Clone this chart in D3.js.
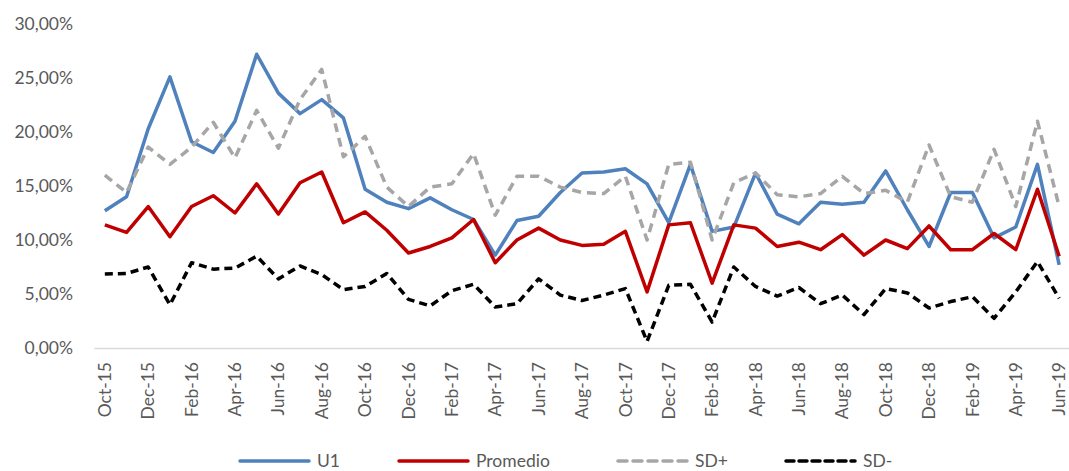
<!DOCTYPE html>
<html>
<head>
<meta charset="utf-8">
<script src="https://cdn.jsdelivr.net/npm/d3@7"></script>
<style>
  body { margin: 0; background: #fff; }
  svg { font-family: Lato, "Open Sans", sans-serif; }
</style>
</head>
<body>
<div id="chart"></div>
<script>
// Monthly values, Oct-15 .. Jun-19 (percent)
const months = ['Oct-15','Nov-15','Dec-15','Jan-16','Feb-16','Mar-16','Apr-16','May-16','Jun-16','Jul-16','Aug-16','Sep-16',
  'Oct-16','Nov-16','Dec-16','Jan-17','Feb-17','Mar-17','Apr-17','May-17','Jun-17','Jul-17','Aug-17','Sep-17',
  'Oct-17','Nov-17','Dec-17','Jan-18','Feb-18','Mar-18','Apr-18','May-18','Jun-18','Jul-18','Aug-18','Sep-18',
  'Oct-18','Nov-18','Dec-18','Jan-19','Feb-19','Mar-19','Apr-19','May-19','Jun-19'];

const u1 = [12.7, 14.0, 20.3, 25.1, 19.1, 18.1, 21.0, 27.2, 23.6, 21.7, 23.0, 21.3,
  14.7, 13.5, 12.9, 13.9, 12.8, 11.9, 8.6, 11.8, 12.2, 14.4, 16.2, 16.3,
  16.6, 15.2, 11.6, 17.0, 10.8, 11.2, 16.2, 12.4, 11.5, 13.5, 13.3, 13.5,
  16.4, 12.8, 9.4, 14.4, 14.4, 10.2, 11.2, 17.0, 7.7];

const promedio = [11.4, 10.7, 13.1, 10.3, 13.1, 14.1, 12.5, 15.2, 12.4, 15.3, 16.3, 11.6,
  12.6, 10.9, 8.8, 9.4, 10.2, 11.9, 7.9, 10.0, 11.1, 10.0, 9.5, 9.6,
  10.8, 5.2, 11.4, 11.6, 6.0, 11.4, 11.1, 9.4, 9.8, 9.1, 10.5, 8.6,
  10.0, 9.2, 11.3, 9.1, 9.1, 10.6, 9.1, 14.7, 8.5];

const sdPlus = [16.0, 14.4, 18.6, 17.0, 18.6, 20.9, 17.6, 22.0, 18.5, 23.0, 25.8, 17.7,
  19.6, 14.9, 13.1, 14.9, 15.2, 18.0, 12.3, 15.9, 15.9, 14.9, 14.4, 14.3,
  15.9, 10.0, 17.0, 17.2, 10.0, 15.3, 16.2, 14.2, 14.0, 14.3, 15.9, 14.3,
  14.6, 13.5, 18.8, 14.0, 13.5, 18.4, 13.1, 21.0, 13.1];

const sdMinus = [6.85, 6.9, 7.5, 4.0, 7.9, 7.3, 7.4, 8.5, 6.4, 7.6, 6.8, 5.4,
  5.7, 6.9, 4.5, 3.9, 5.3, 5.9, 3.8, 4.1, 6.4, 4.9, 4.4, 4.9,
  5.5, 0.6, 5.8, 5.9, 2.4, 7.5, 5.7, 4.8, 5.6, 4.1, 4.9, 3.1,
  5.5, 5.1, 3.7, 4.3, 4.75, 2.75, 5.2, 8.0, 4.6];

const yTicks = [0, 5, 10, 15, 20, 25, 30];

const series = [
  { name: 'U1', values: u1, color: '#4F81BD', dash: null },
  { name: 'Promedio', values: promedio, color: '#C00000', dash: null },
  { name: 'SD+', values: sdPlus, color: '#A6A6A6', dash: '9,6' },
  { name: 'SD-', values: sdMinus, color: '#000000', dash: '8,5' }
];

const width = 1069, height = 471;
const margin = { top: 24, right: 0, bottom: 123, left: 94 };
const fontSize = '17.5px';

const svg = d3.select('#chart').append('svg')
  .attr('width', width)
  .attr('height', height);

const x = d3.scaleBand()
  .domain(months)
  .range([margin.left, 1070]);

const y = d3.scaleLinear()
  .domain([0, 30])
  .range([height - margin.bottom, margin.top]);

const fmt = v => d3.format('.2f')(v).replace('.', ',') + '%';

// y axis labels only (no line)
const yAxis = svg.append('g')
  .attr('transform', `translate(${margin.left}, 0)`)
  .call(d3.axisLeft(y).tickValues(yTicks).tickSize(0).tickPadding(21).tickFormat(fmt));
yAxis.select('.domain').remove();
yAxis.selectAll('text')
  .attr('fill', '#595959')
  .attr('font-size', fontSize)
  .attr('font-family', 'Lato, sans-serif');

// x axis
const xAxis = svg.append('g')
  .attr('transform', `translate(0, ${y(0)})`)
  .call(d3.axisBottom(x).tickSize(0).tickFormat((d, i) => i % 2 === 0 ? d : ''));
xAxis.select('.domain')
  .attr('stroke', '#D9D9D9')
  .attr('stroke-width', 1.5);
xAxis.selectAll('text')
  .attr('fill', '#595959')
  .attr('font-size', fontSize)
  .attr('font-family', 'Lato, sans-serif')
  .attr('text-anchor', 'end')
  .attr('transform', 'rotate(-90)')
  .attr('x', -14)
  .attr('y', 0)
  .attr('dy', '0.35em');

const line = d3.line()
  .x((d, i) => x(months[i]) + x.bandwidth() / 2)
  .y(d => y(d));

svg.append('g')
  .selectAll('path')
  .data(series)
  .join('path')
    .attr('d', d => line(d.values))
    .attr('fill', 'none')
    .attr('stroke', d => d.color)
    .attr('stroke-width', 3.5)
    .attr('stroke-linejoin', 'round')
    .attr('stroke-dasharray', d => d.dash);

// legend
const legendX = [240, 399, 618, 786];
const legend = svg.append('g')
  .attr('transform', 'translate(0, 461)');

legend.selectAll('line')
  .data(series)
  .join('line')
    .attr('x1', (d, i) => legendX[i])
    .attr('x2', (d, i) => legendX[i] + 69)
    .attr('stroke', d => d.color)
    .attr('stroke-width', 3.5)
    .attr('stroke-linecap', 'round')
    .attr('stroke-dasharray', d => d.dash);

legend.selectAll('text')
  .data(series)
  .join('text')
    .attr('x', (d, i) => legendX[i] + 77)
    .attr('dy', '0.33em')
    .attr('fill', '#595959')
    .attr('font-size', fontSize)
    .text(d => d.name);
</script>
</body>
</html>
